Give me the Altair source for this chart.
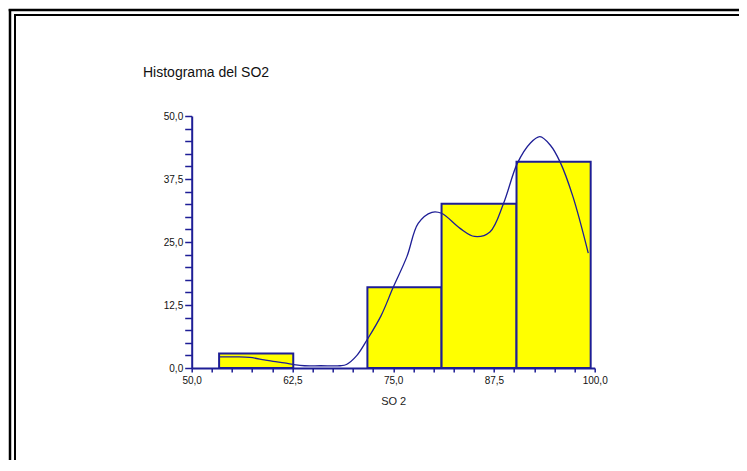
import altair as alt
import pandas as pd

# Histogram bins (SO2) and relative frequency (%)
bin_start = [53.4, 62.6, 71.8, 81.0, 90.3]
bin_end = [62.6, 71.8, 81.0, 90.3, 99.5]
percent = [2.9, 0.0, 16.0, 32.6, 40.9]

# Smoothed density curve
curve_x = [53.4, 55.5, 57.2, 59.0, 60.1, 61.5, 62.6, 64.0, 66.0, 68.4, 69.2,
           70.5, 71.8, 73.5, 75.0, 76.7, 78.1, 79.8, 81.0, 83.3, 85.1, 87.0,
           88.7, 90.4, 92.0, 93.2, 94.5, 95.7, 97.3, 99.2]
curve_y = [2.2, 2.2, 2.1, 1.6, 1.3, 1.0, 0.7, 0.45, 0.45, 0.45, 0.7,
           2.5, 5.7, 10.4, 16.0, 22.1, 28.7, 30.9, 30.7, 27.7, 26.1, 27.0,
           32.7, 40.6, 44.6, 45.9, 44.2, 40.9, 34.0, 22.8]

x_ticks = [50 + 2.5 * i for i in range(21)]
y_ticks = [2.5 * i for i in range(21)]

title_text = "Histograma del SO2"
x_title = "SO 2"

NAVY = "#1e1e96"
W, H = 403, 252
PL, PT = 183.7, 108

bars_df = pd.DataFrame({"start": bin_start, "end": bin_end, "pct": percent})
curve_df = pd.DataFrame({"x": curve_x, "y": curve_y})
one = pd.DataFrame({"a": [0]})

label_expr = ("(abs(datum.value / 12.5 - round(datum.value / 12.5)) < 0.001) ? "
              "replace(format(datum.value, '.1f'), '.', ',') : ''")

xscale = alt.Scale(domain=[50, 100], nice=False, zero=False)
yscale = alt.Scale(domain=[0, 50], nice=False)

x_axis = alt.Axis(
    values=x_ticks, labelExpr=label_expr, title=x_title, grid=False,
    domainColor=NAVY, domainWidth=2, tickColor=NAVY, tickSize=4, tickWidth=1.5,
    labelFont="Liberation Sans", labelFontSize=10, labelColor="#111111",
    labelPadding=3, labelFlush=False, labelOverlap=False,
    titleFont="Liberation Sans", titleFontSize=11, titleFontWeight="normal",
    titleColor="#222222", titlePadding=10)
y_axis = alt.Axis(
    values=y_ticks, labelExpr=label_expr, title=None, grid=False,
    domainColor=NAVY, domainWidth=2, tickColor=NAVY, tickSize=7, tickWidth=1.5,
    labelFont="Liberation Sans", labelFontSize=10, labelColor="#111111",
    labelPadding=2, labelOverlap=False, labelFlush=False)

bars = alt.Chart(bars_df).transform_filter("datum.pct > 0").mark_rect(
    color="#ffff00", stroke=NAVY, strokeWidth=2
).encode(
    x=alt.X("start:Q", scale=xscale, axis=x_axis),
    x2="end:Q",
    y=alt.Y("pct:Q", scale=yscale, axis=y_axis),
    y2=alt.datum(0),
)

curve = alt.Chart(curve_df).mark_line(
    color=NAVY, strokeWidth=1.3, interpolate="catmull-rom"
).encode(x=alt.X("x:Q", scale=xscale, axis=x_axis),
         y=alt.Y("y:Q", scale=yscale, axis=y_axis))

title = alt.Chart(one).mark_text(
    text=title_text, align="left", baseline="alphabetic",
    font="Liberation Sans", fontSize=14, color="#111111"
).encode(x=alt.value(-48.7), y=alt.value(-39))

big = 800
frame = [
    alt.Chart(one).mark_rule(color="black", strokeWidth=2.5).encode(
        x=alt.value(-181.7), y=alt.value(-107), y2=alt.value(big)),
    alt.Chart(one).mark_rule(color="black", strokeWidth=2).encode(
        x=alt.value(-176.7), y=alt.value(-101), y2=alt.value(big)),
    alt.Chart(one).mark_rule(color="black", strokeWidth=2.5).encode(
        y=alt.value(-106), x=alt.value(-183), x2=alt.value(big)),
    alt.Chart(one).mark_rule(color="black", strokeWidth=2).encode(
        y=alt.value(-101), x=alt.value(-177.7), x2=alt.value(big)),
]

chart = alt.layer(bars, curve, title, *frame).properties(
    width=W, height=H,
    autosize=alt.AutoSizeParams(type="none"),
    padding={"left": PL, "top": PT, "right": 731 - PL - W, "bottom": 452 - PT - H},
).configure(background="white", view=alt.ViewConfig(stroke=None))

chart.save("out.html", embed_options={"renderer": "svg", "actions": False})
